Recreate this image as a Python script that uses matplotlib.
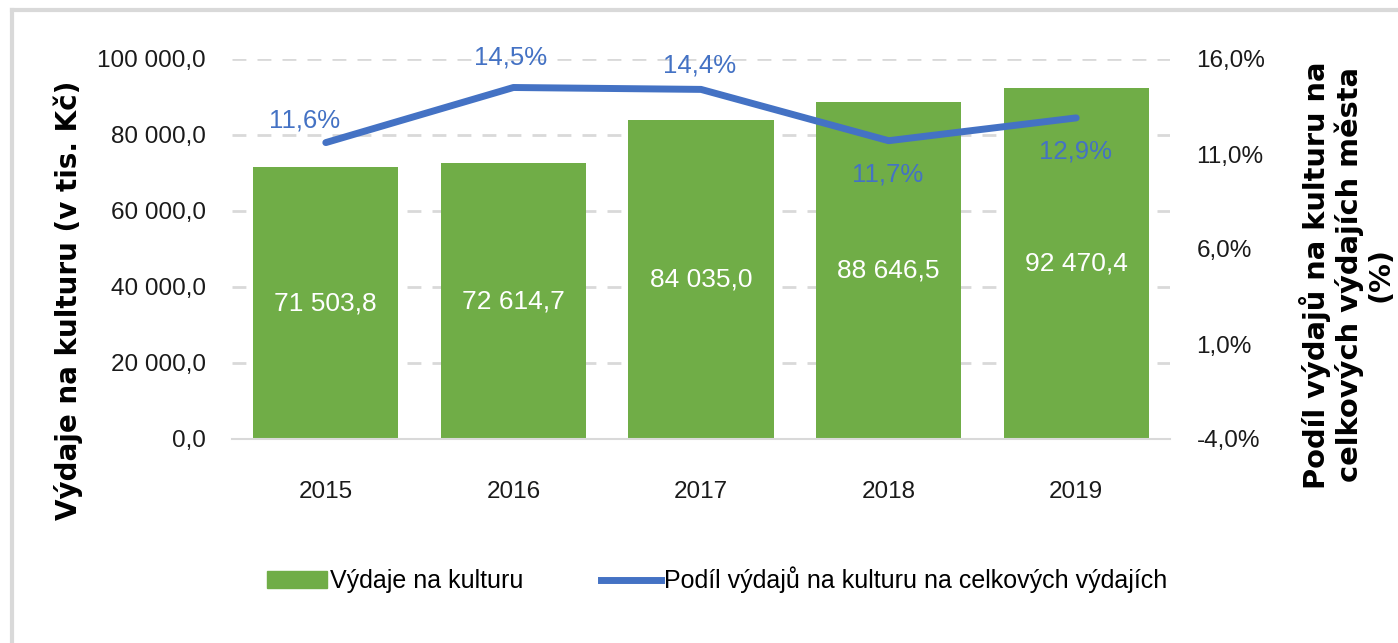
import matplotlib
matplotlib.use("Agg")
import matplotlib.pyplot as plt
from matplotlib.lines import Line2D
from matplotlib.patches import Patch
from matplotlib.ticker import FuncFormatter

years = ["2015", "2016", "2017", "2018", "2019"]
expenses = [71503.8, 72614.7, 84035.0, 88646.5, 92470.4]
share = [11.6, 14.5, 14.4, 11.7, 12.9]
share_offsets = [(-21, 22), (-3, 30), (-1, 24), (-1, -34), (-1, -34)]

GREEN = "#70ad47"
BLUE = "#4472c4"
GRID = "#d9d9d9"
NARROW = ["Liberation Sans", "DejaVu Sans"]

W, H = 1398, 643
fig = plt.figure(figsize=(W / 100, H / 100), dpi=100)

def fx(px):
    return px / W

def fy(py):
    return 1 - py / H

ax = fig.add_axes([fx(232), fy(439), fx(1170) - fx(232), fy(59) - fy(439)])
x = list(range(len(years)))
bars = ax.bar(x, expenses, width=0.775, color=GREEN, zorder=2)
ax.set_xlim(-0.5, len(years) - 0.5)
ax.set_ylim(0, 100000)
ax.set_yticks([0, 20000, 40000, 60000, 80000, 100000])

def fmt_left(v, pos):
    return f"{v:,.1f}".replace(",", " ").replace(".", ",")

ax.yaxis.set_major_formatter(FuncFormatter(fmt_left))
ax.set_xticks(x)
ax.set_xticklabels(years)
for lab in ax.get_xticklabels() + ax.get_yticklabels():
    lab.set_family(NARROW)
    lab.set_fontsize(17.5)
    lab.set_color("#1a1a1a")
ax.tick_params(axis="both", length=0)
ax.tick_params(axis="x", pad=30)
ax.tick_params(axis="y", pad=19)
for s in ["top", "right", "left"]:
    ax.spines[s].set_visible(False)
ax.spines["bottom"].set_color(GRID)
ax.spines["bottom"].set_linewidth(1.5)
ax.yaxis.grid(True, color=GRID, linestyle=(0, (5, 4)), linewidth=2, zorder=0)
ax.set_axisbelow(True)

for xi, v in zip(x, expenses):
    txt = f"{v:,.1f}".replace(",", " ").replace(".", ",")
    ax.text(xi, v / 2, txt, ha="center", va="center", color="white",
            fontsize=19, family=NARROW, zorder=3)

ax2 = ax.twinx()
ax2.set_ylim(-4, 16)
ax2.set_yticks([-4, 1, 6, 11, 16])
ax2.yaxis.set_major_formatter(FuncFormatter(lambda v, p: f"{v:.1f}%".replace(".", ",")))
for lab in ax2.get_yticklabels():
    lab.set_family(NARROW)
    lab.set_fontsize(17.5)
    lab.set_color("#1a1a1a")
ax2.tick_params(axis="y", length=0, pad=19)
for s in ["top", "right", "left", "bottom"]:
    ax2.spines[s].set_visible(False)
ax2.plot(x, share, color=BLUE, linewidth=5, solid_capstyle="round", zorder=4)
for xi, v, off in zip(x, share, share_offsets):
    ax2.annotate(f"{v:.1f}%".replace(".", ","), (xi, v), xytext=off,
                 textcoords="offset pixels", ha="center", va="center",
                 color=BLUE, fontsize=18.5, family=NARROW)

fig.text(fx(68), fy(300), "Výdaje na kulturu (v tis. Kč)", rotation=90,
         ha="center", va="center", fontsize=20, fontweight="bold", color="black",
         family="DejaVu Sans")
fig.text(fx(1347), fy(275), "Podíl výdajů na kulturu na\ncelkových výdajích města\n(%)",
         rotation=90, ha="center", va="center", fontsize=20.8, fontweight="bold",
         color="black", linespacing=1.13, multialignment="center", family="DejaVu Sans")

handles = [Patch(facecolor=GREEN, edgecolor=GREEN),
           Line2D([0], [0], color=BLUE, linewidth=5)]
leg = fig.legend(handles, ["Výdaje na kulturu", "Podíl výdajů na kulturu na celkových výdajích"],
                 loc="center", bbox_to_anchor=(fx(717), fy(580)), ncol=2, frameon=False,
                 prop={"family": NARROW, "size": 18}, handlelength=2.4, handletextpad=0.12,
                 columnspacing=3.1)

# chart frame (top and left)
fig.add_artist(Line2D([fx(12), 1], [fy(10), fy(10)], color=GRID, linewidth=3,
                      transform=fig.transFigure))
fig.add_artist(Line2D([fx(12), fx(12)], [fy(10), 0], color=GRID, linewidth=3,
                      transform=fig.transFigure))

fig.savefig("out.png", dpi=100)
